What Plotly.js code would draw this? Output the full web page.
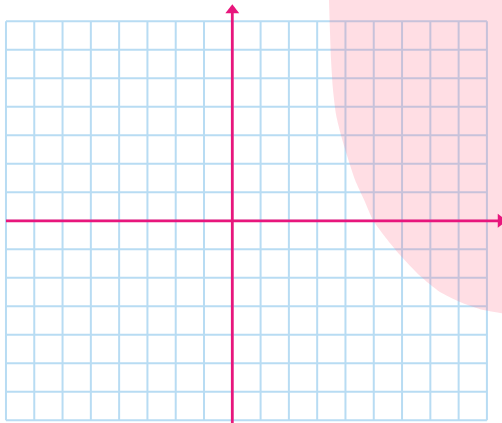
<!DOCTYPE html>
<html>
<head>
<meta charset="utf-8">
<script src="https://cdn.plot.ly/plotly-3.0.1.min.js"></script>
<style>html,body{margin:0;padding:0;background:#fff;}#chart{width:502px;height:423px;}</style>
</head>
<body>
<div id="chart"></div>
<script>
// Grid ticks (graph paper units)
const gridX = [-8,-7,-6,-5,-4,-3,-2,-1,0,1,2,3,4,5,6,7,8,9];
const gridY = [-7,-6,-5,-4,-3,-2,-1,0,1,2,3,4,5,6,7];

// Boundary of the shaded region
const boundaryX = [3.41, 3.45, 3.49, 3.56, 3.67, 3.84, 4.05, 4.34, 4.66, 4.97, 5.43, 5.93, 6.64, 7.34, 8.05, 8.76, 9.53, 9.9];
const boundaryY = [8.0, 6.70, 5.64, 4.59, 3.71, 3.01, 2.31, 1.43, 0.73, 0.03, -0.60, -1.20, -1.94, -2.50, -2.85, -3.10, -3.24, -3.30];

// Axis extents
const xAxisStart = -8, xAxisEnd = 9.41, xArrowAt = 9.49;
const yAxisStart = -7.2, yAxisEnd = 7.29, yArrowAt = 7.385;
const viewX = [-8.211, 9.533];
const viewY = [-7.095, 7.747];

const gx = [], gy = [];
gridX.forEach(v => { gx.push(v, v, null); gy.push(gridY[0], gridY[gridY.length-1], null); });
gridY.forEach(v => { gx.push(gridX[0], gridX[gridX.length-1], null); gy.push(v, v, null); });

const fillX = boundaryX.concat([9.9, 3.41]);
const fillY = boundaryY.concat([8.2, 8.2]);

const axisColor = '#e8167c';

const traces = [
  {x: gx, y: gy, mode: 'lines', line: {color: '#b8dcf3', width: 2}, hoverinfo: 'skip', connectgaps: false},
  {x: fillX, y: fillY, mode: 'lines', fill: 'toself', fillcolor: 'rgba(255,105,130,0.22)', line: {width: 0, shape: 'spline', smoothing: 0.6}, hoverinfo: 'skip'},
  {x: [xAxisStart, xAxisEnd], y: [0, 0], mode: 'lines', line: {color: axisColor, width: 2.8}, hoverinfo: 'skip'},
  {x: [0, 0], y: [yAxisStart, yAxisEnd], mode: 'lines', line: {color: axisColor, width: 2.8}, hoverinfo: 'skip'},
  {x: [0], y: [yArrowAt], mode: 'markers', marker: {symbol: 'triangle-up', size: 12, color: axisColor, line: {width: 0}}, hoverinfo: 'skip', cliponaxis: false},
  {x: [xArrowAt], y: [0], mode: 'markers', marker: {symbol: 'triangle-right', size: 12, color: axisColor, line: {width: 0}}, hoverinfo: 'skip', cliponaxis: false}
];

const layout = {
  width: 502, height: 423,
  margin: {l: 0, r: 0, t: 0, b: 0, pad: 0},
  paper_bgcolor: '#ffffff', plot_bgcolor: '#ffffff',
  showlegend: false,
  xaxis: {range: viewX, visible: false, showgrid: false, zeroline: false, fixedrange: true},
  yaxis: {range: viewY, visible: false, showgrid: false, zeroline: false, fixedrange: true}
};

Plotly.newPlot('chart', traces, layout, {displayModeBar: false, staticPlot: true});
</script>
</body>
</html>
